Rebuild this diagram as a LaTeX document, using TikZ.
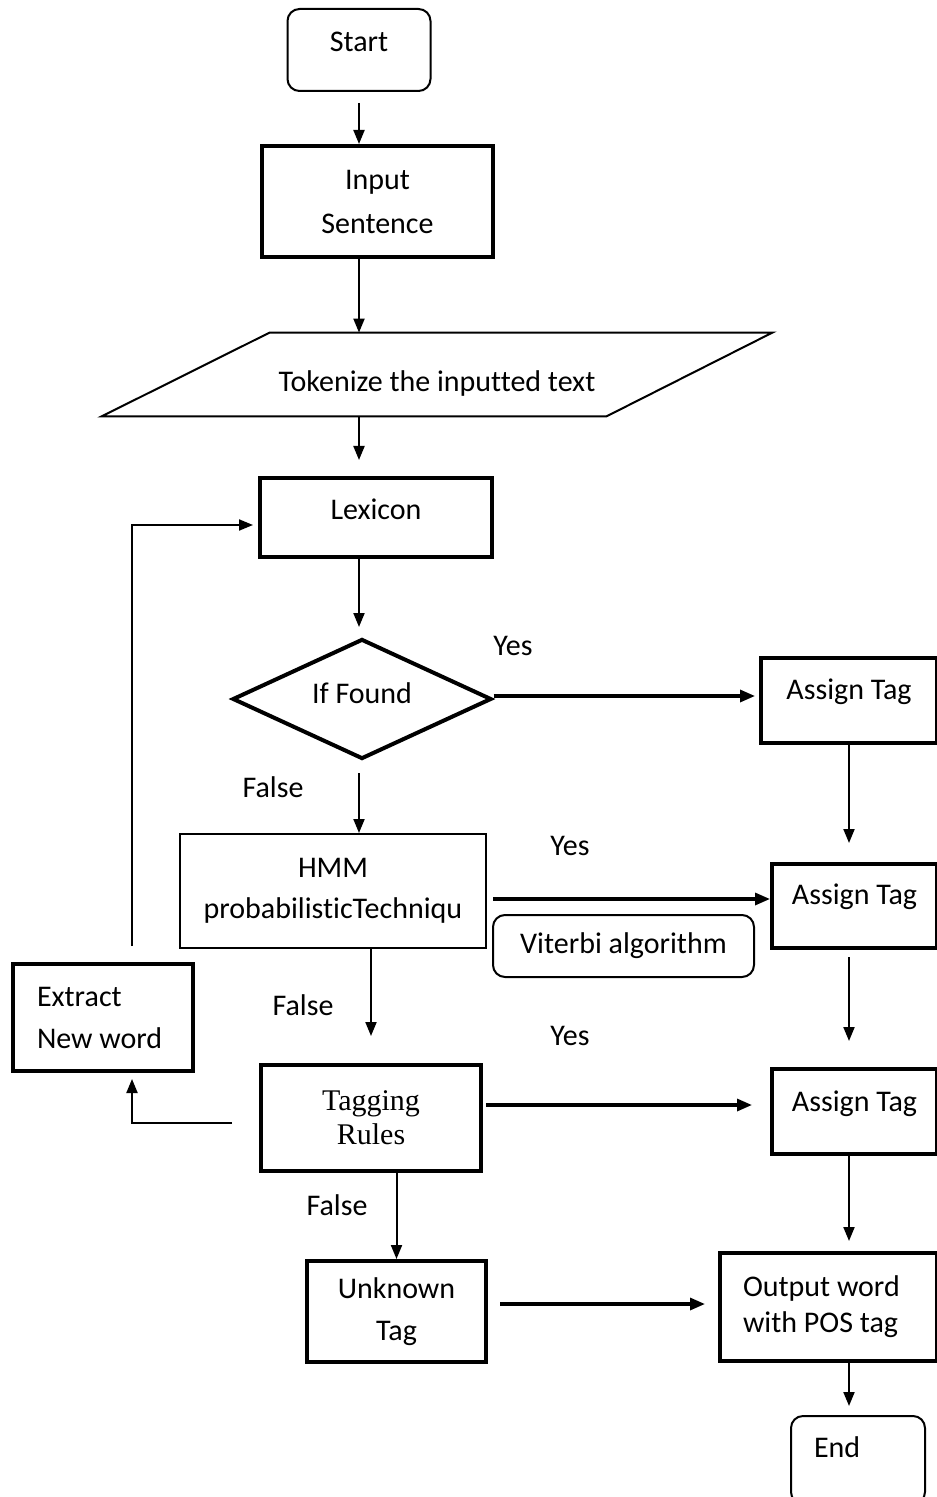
\documentclass[tikz,border=0pt]{standalone}
\usepackage{fontspec}
\setmainfont{Carlito}[Ligatures=NoCommon]
\newfontfamily\timesfont{Liberation Serif}
\usepackage{tikz}
\usetikzlibrary{arrows.meta,shapes.geometric}

\begin{document}
\begin{tikzpicture}[x=0.5pt, y=-0.5pt,
  every node/.style={font=\fontsize{15}{22}\selectfont},
  box/.style={draw=black, line width=2pt, inner sep=0pt, align=center},
  thinbox/.style={draw=black, line width=1pt, inner sep=0pt, align=center},
  arr/.style={-{Triangle[length=7pt,width=5.5pt]}, line width=1pt},
  thickarr/.style={-{Triangle[length=7.5pt,width=6pt]}, line width=1.6pt}]
  \useasboundingbox (0,0) rectangle (936,1497);

  \node[thinbox, rounded corners=6pt, minimum width=71.5pt, minimum height=41pt, text height=10pt, text depth=8.7pt] (start) at (359,50) {Start};
  \node[box, minimum width=115.5pt, minimum height=55.5pt] (input) at (377.5,201.5) {Input\\Sentence};
  \node[inner sep=0pt, minimum width=335pt, minimum height=41.5pt, text height=17pt, text depth=0pt] (token) at (437,374.5) {Tokenize the inputted text};
  \draw[line width=1pt] (token.south west) -- ([xshift=84pt]token.north west) -- (token.north east) -- ([xshift=-83pt]token.south east) -- cycle;
  \node[box, minimum width=116pt, minimum height=39.5pt, text height=10pt, text depth=8.2pt] (lexicon) at (376,517.5) {Lexicon};
  \node[box, diamond, aspect=2, minimum width=129.5pt, minimum height=60pt, text height=10pt, text depth=5.7pt] (found) at (362,699) {If Found};
  \node[box, minimum width=88pt, minimum height=42.5pt, text height=10pt, text depth=11.2pt] (tag1) at (849,700.5) {Assign Tag};

  \node[thinbox, minimum width=153pt, minimum height=57pt, font=\fontsize{15}{20.5}\selectfont] (hmm) at (333,891) {HMM\\probabilisticTechniqu};
  \node[thinbox, rounded corners=6pt, minimum width=130.5pt, minimum height=31pt] (viterbi) at (623.5,946) {Viterbi algorithm};
  \node[box, minimum width=82.5pt, minimum height=42pt, text height=10pt, text depth=11.7pt] (tag2) at (854.5,906) {Assign Tag};

  \node[box, minimum height=53.5pt, text width=66pt, inner xsep=12pt, align=flush left, font=\fontsize{15}{21}\selectfont] (extract) at (103,1017.5) {Extract\\New word};
  \node[box, minimum width=110pt, minimum height=53pt, font=\timesfont\fontsize{15}{17}\selectfont] (rules) at (371,1118) {Tagging\\Rules};
  \node[box, minimum width=82.5pt, minimum height=42.5pt, text height=10pt, text depth=10.2pt] (tag3) at (854.5,1111.5) {Assign Tag};

  \node[box, minimum width=89.5pt, minimum height=50.5pt, font=\fontsize{15}{21}\selectfont] (unknown) at (396.5,1311.5) {Unknown\\Tag};
  \node[box, minimum height=54pt, text width=85.5pt, inner xsep=11.5pt, align=flush left, font=\fontsize{15}{18}\selectfont] (output) at (828.5,1307) {Output word\\with POS tag};
  \node[thinbox, rounded corners=6pt, minimum height=44pt, text width=44pt, inner xsep=11.5pt, align=flush left, text height=10pt, text depth=12.7pt] (stop) at (858,1460) {End};

  \node (yes1) at (513,646) {Yes};
  \node (yes2) at (570,846) {Yes};
  \node (yes3) at (570,1036) {Yes};
  \node (false1) at (273,787) {False};
  \node (false2) at (303,1005) {False};
  \node (false3) at (337,1205) {False};

  \draw[arr, shorten <=5.5pt] (start.south) -- (start.south |- input.north);
  \draw[arr] (start.south |- input.south) -- (start.south |- token.north);
  \draw[arr, shorten >=8pt] (start.south |- token.south) -- (start.south |- lexicon.north);
  \draw[arr, shorten >=5pt] (start.south |- lexicon.south) -- (start.south |- found.north);
  \draw[thickarr, shorten >=2pt] ([yshift=1.5pt]found.east) -- ([yshift=1.5pt]found.east -| tag1.west);
  \draw[arr, shorten >=9.5pt] (tag1.south) -- (tag1.south |- tag2.north);
  \draw[arr, shorten <=6pt] (start.south |- found.south) -- (start.south |- hmm.north);
  \draw[thickarr, shorten <=3pt] ([yshift=-4pt]hmm.east) -- ([yshift=-4pt]hmm.east -| tag2.west);
  \draw[arr, shorten >=13.5pt] (rules.north |- hmm.south) -- (rules.north);
  \draw[arr, shorten <=3.5pt, shorten >=13pt] (tag1.south |- tag2.south) -- (tag1.south |- tag3.north);
  \draw[thickarr, shorten <=1.5pt, shorten >=9pt] ([yshift=6.5pt]rules.east) -- ([yshift=6.5pt]rules.east -| tag3.west);
  \draw[arr, shorten <=13.5pt, shorten >=3pt] ([yshift=-2.5pt]rules.west) -| ([xshift=14.5pt]extract.south);
  \draw[arr, shorten <=8pt, shorten >=2.5pt] ([xshift=14.5pt]extract.north) |- ([yshift=-3.75pt]lexicon.west);
  \draw[arr, shorten >=5pt] (tag1.south |- tag3.south) -- (tag1.south |- output.north);
  \draw[arr] (unknown.north |- rules.south) -- (unknown.north);
  \draw[thickarr, shorten <=6pt, shorten >=6.5pt] ([yshift=3.75pt]unknown.east) -- ([yshift=3.75pt]unknown.east -| output.west);
  \draw[arr, shorten >=4.5pt] (tag1.south |- output.south) -- (tag1.south |- stop.north);
\end{tikzpicture}
\end{document}
